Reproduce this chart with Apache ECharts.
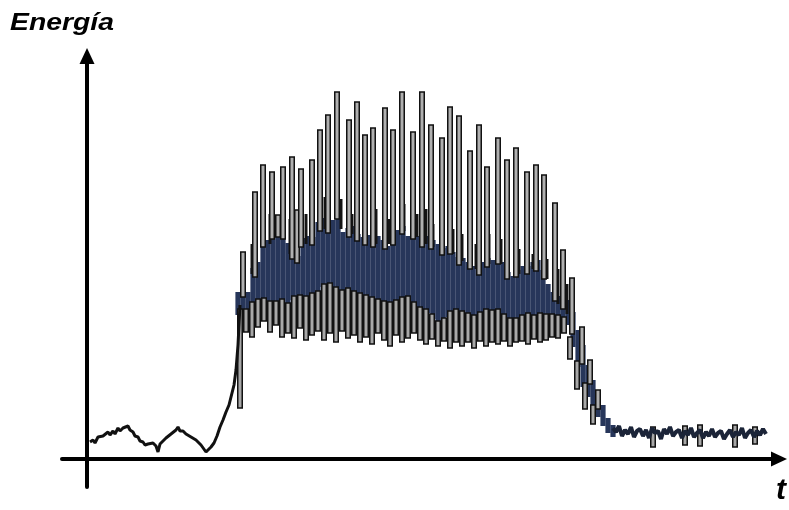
<!DOCTYPE html>
<html>
<head>
<meta charset="utf-8">
<script src="https://cdn.jsdelivr.net/npm/echarts@6/dist/echarts.min.js"></script>
<style>html,body{margin:0;padding:0;background:#fff;}#c{width:789px;height:510px;}</style>
</head>
<body>
<div id="c"></div>
<script>
// time units along t, energy units upward
const startSignal = [
[3,17],[6,19],[8,16],[11,22],[13,20],[16,23],[18,21],[21,27],[23,24],[26,28],[28,25],[31,31],[33,28],[36,31],[38,29],[41,33],[43,29],[46,27],[48,23],[51,22],[53,18],[56,17],[58,14],[61,15],[63,13],[66,16],[69,13],[71,7],[73,15],[76,18],[79,21],[81,22],[84,25],[86,26],[89,29],[91,32],[93,28],[96,28],[99,25],[101,26],[104,22],[106,23],[109,19],[111,17],[114,14],[116,12],[119,7],[121,9],[124,12],[127,16],[130,23],[133,32],[136,39],[139,47],[142,54],[145,66],[147,74],[149,89],[151,114],[153,154]
];
// dense band: time, low, high
const bandTimes = [151,156,161,166,171,176,181,186,191,196,201,206,211,216,221,226,231,236,241,246,251,256,261,266,271,276,281,286,291,296,301,306,311,316,321,326,331,336,341,346,351,356,361,366,371,376,381,386,391,396,401,406,411,416,421,426,431,436,441,446,451,456,461,466,471,476,481,486,491,496,501,506,511,516,521,526];
const bandLow = [144,147,150,154,156,157,154,152,154,156,152,159,161,158,160,162,164,172,174,170,168,166,168,164,162,164,160,158,156,154,152,154,156,158,160,154,150,148,146,140,134,136,142,146,148,144,142,140,142,146,148,144,146,142,138,136,138,140,142,140,142,142,140,142,140,138,134,112,92,72,62,52,42,33,26,22];
const bandHigh = [167,169,167,191,197,222,219,227,231,229,216,209,203,221,223,222,237,241,234,239,249,227,231,233,225,222,224,221,223,219,213,221,229,233,223,229,223,221,223,219,215,211,213,207,202,201,197,193,191,197,201,199,203,197,187,183,189,193,193,197,199,189,175,167,163,159,159,147,129,114,94,79,64,54,41,34];
// tall light spikes above the band: time, low, high
const upperTimes = [156,168,176,185,191,196,205,210,214,225,233,241,250,262,270,278,286,298,306,315,326,335,344,355,363,372,383,392,400,411,420,429,440,449,457,468,476,485,495,503,511];
const upperLow = [162,182,212,220,222,220,200,196,212,214,228,226,240,222,218,214,212,210,214,225,220,212,210,204,205,194,190,184,192,195,180,182,185,188,180,158,150,125,95,75,50];
const upperHigh = [207,267,294,287,244,292,302,249,290,299,329,344,367,339,357,324,331,351,329,367,327,367,334,321,352,343,308,334,292,321,299,311,287,294,284,256,209,181,132,99,69];
// dark bars beside the spikes: time, low, high
const darkTimes = [165,183,203,219,238,254,265,289,302,317,330,339,346,366,375,389,402,414,432,446,460,471,480];
const darkLow = [185,215,205,215,230,230,225,215,215,228,222,215,212,205,198,190,195,195,185,190,180,155,145];
const darkHigh = [215,245,240,245,262,260,245,250,240,255,245,250,235,230,225,215,225,220,210,205,200,190,175];
// light bars below the band: time, low, high
const lowerTimes = [153,159,165,171,177,183,189,195,201,207,213,219,225,231,237,243,249,255,261,267,273,279,285,291,297,303,309,315,321,327,333,339,345,351,357,363,369,375,381,387,393,399,405,411,417,423,429,435,441,447,453,459,465,471,477,483,490,498,506,566,598,613,648,668];
const lowerLow = [51,127,122,132,138,127,134,122,126,121,131,119,124,128,119,126,117,128,121,124,117,122,115,126,119,113,124,117,121,126,119,115,120,113,118,111,117,113,117,111,118,113,117,115,118,113,117,118,115,120,117,119,122,121,126,100,70,50,35,12,14,13,12,15];
const lowerHigh = [150,150,157,160,161,158,158,160,156,163,164,163,166,168,175,176,172,169,171,168,166,164,162,160,158,157,159,162,163,157,152,150,145,138,141,148,150,148,146,144,147,150,149,150,145,141,141,144,146,144,146,145,145,144,142,122,98,76,54,32,33,34,34,32];
const endSignal = [
[526,31],[529,27],[532,33],[535,23],[538,29],[541,25],[544,32],[547,22],[550,28],[553,30],[556,23],[559,29],[562,21],[565,31],[568,26],[571,28],[574,20],[577,30],[580,25],[583,32],[586,23],[589,27],[592,29],[595,21],[598,28],[601,24],[604,31],[607,22],[610,26],[613,29],[616,21],[619,27],[622,23],[625,30],[628,22],[631,26],[634,28],[637,20],[640,25],[643,29],[646,22],[649,27],[652,24],[655,31],[658,21],[661,26],[664,29],[667,22],[670,28],[673,24],[676,30],[679,25]
];

const zip = (ts, lo, hi) => ts.map((t,i)=>[t, lo[i], hi[i]]);

function barRenderer(width, style){
  return function(params, api){
    const t=api.value(0), lo=api.value(1), hi=api.value(2);
    const a=api.coord([t, hi]), b=api.coord([t, lo]);
    return {type:'rect', shape:{x:a[0]-width/2, y:a[1], width:width, height:b[1]-a[1]}, style:style};
  };
}

const chart = echarts.init(document.getElementById('c'), null, {renderer:'canvas'});
const axisCommon = {
  type:'value',
  axisLine:{show:true, onZero:true, symbol:['none','triangle'], symbolSize:[15,16], lineStyle:{color:'#000', width:4}},
  axisTick:{show:false}, axisLabel:{show:false}, splitLine:{show:false}
};
chart.setOption({
  animation:false,
  backgroundColor:'#fff',
  grid:{left:62, right:10, top:56, bottom:23},
  xAxis: Object.assign({}, axisCommon, {min:-25, max:692}),
  yAxis: Object.assign({}, axisCommon, {min:-28, max:403}),
  graphic:[
    {type:'text', x:10, y:11, scaleX:1.18, style:{text:'Energía', font:'italic bold 24px "Liberation Sans", Arial, sans-serif', fill:'#000', verticalAlign:'top'}},
    {type:'text', x:776, y:476, style:{text:'t', font:'italic bold 30px "Liberation Sans", Arial, sans-serif', fill:'#000', verticalAlign:'top'}}
  ],
  series:[
    {
      type:'custom', name:'band', data:zip(bandTimes, bandLow, bandHigh), z:2,
      renderItem:function(params, api){
        const t=api.value(0), lo=api.value(1), hi=api.value(2);
        const a=api.coord([t-2.6, hi]), b=api.coord([t+2.6, lo]);
        return {type:'rect', shape:{x:a[0], y:a[1], width:b[0]-a[0], height:b[1]-a[1]}, style:{fill:'#27365a'}};
      }
    },
    {
      type:'custom', name:'lower', data:zip(lowerTimes, lowerLow, lowerHigh), z:3,
      renderItem:barRenderer(4.5, {fill:'#a8a8a8', stroke:'#111', lineWidth:1.5})
    },
    {
      type:'custom', name:'dark', data:zip(darkTimes, darkLow, darkHigh), z:3,
      renderItem:barRenderer(3, {fill:'#141414'})
    },
    {
      type:'line', name:'start', data:startSignal, symbol:'none', z:3,
      lineStyle:{color:'#111', width:3}
    },
    {
      type:'line', name:'end', data:endSignal, symbol:'none', z:3,
      lineStyle:{color:'#1b2438', width:4}
    },
    {
      type:'custom', name:'upper', data:zip(upperTimes, upperLow, upperHigh), z:4,
      renderItem:barRenderer(4.5, {fill:'#b0b0b0', stroke:'#111', lineWidth:1.5})
    }
  ]
});
</script>
</body>
</html>
